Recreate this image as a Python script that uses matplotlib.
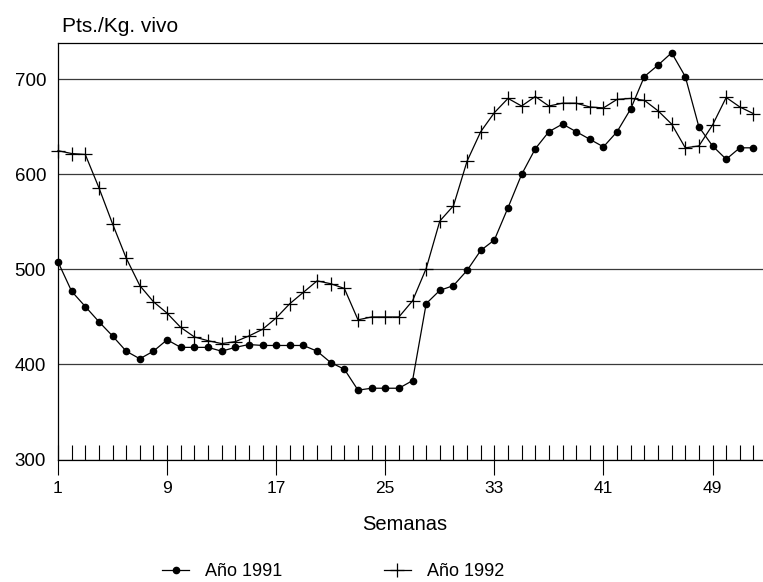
import numpy as np
import matplotlib
matplotlib.use('Agg')
import matplotlib.pyplot as plt
from matplotlib.ticker import MultipleLocator

# precio semanal, Pts./Kg. vivo
semanas = np.arange(1, 53)
ano1991 = [508, 477, 461, 445, 430, 414, 406, 414, 426, 418,
           418, 418, 414, 418, 421, 420, 420, 420, 420, 414,
           402, 395, 373, 375, 375, 375, 383, 464, 478, 483,
           499, 520, 531, 565, 600, 627, 645, 653, 645, 637,
           629, 645, 669, 703, 715, 728, 703, 650, 630, 616,
           628, 628]
ano1992 = [625, 622, 621, 586, 548, 512, 483, 466, 454, 439,
           429, 425, 422, 424, 430, 437, 449, 464, 476, 488,
           485, 480, 447, 450, 450, 450, 467, 501, 551, 567,
           614, 645, 665, 680, 672, 682, 672, 675, 675, 671,
           670, 679, 680, 678, 667, 653, 628, 630, 652, 681,
           671, 664]
yticks = [300, 400, 500, 600, 700]
xticks = [1, 9, 17, 25, 33, 41, 49]

plt.rcParams['font.family'] = ['Liberation Sans', 'DejaVu Sans']

fig = plt.figure(figsize=(7.63, 5.82), dpi=100)
ax = fig.add_axes([58/763, 122.5/582, 705/763, 416.2/582])

ax.plot(semanas, ano1991, color='black', lw=0.9, marker='o', ms=4.5,
        clip_on=False, label='Año 1991')
ax.plot(semanas, ano1992, color='black', lw=0.9, marker='+', ms=10, mew=0.9,
        clip_on=False, label='Año 1992')

ax.set_xlim(1, 52.7)
ax.set_ylim(300, 738)
ax.set_yticks(yticks)
ax.yaxis.grid(True, color='#3a3a3a', lw=0.9)
ax.set_axisbelow(True)
ax.tick_params(axis='y', length=0, pad=8.5, labelsize=13.5)

ax.set_xticks(xticks)
ax.xaxis.set_minor_locator(MultipleLocator(1))
ax.tick_params(axis='x', which='major', direction='inout', length=21, width=0.8,
               pad=5, labelsize=12.5)
ax.tick_params(axis='x', which='minor', direction='in', length=10.5, width=0.8)

ax.spines['right'].set_visible(False)
for s in ['top', 'left', 'bottom']:
    ax.spines[s].set_linewidth(0.9)

fig.text(62/763, 1 - 32/582, 'Pts./Kg. vivo', fontsize=15, va='baseline')
fig.text(405/763, 1 - 525/582, 'Semanas', ha='center', va='center', fontsize=14.5)

fig.legend(loc='center left', bbox_to_anchor=(162/763, 1 - 571.5/582), ncol=2,
           frameon=False, fontsize=13, handlelength=1.5, handletextpad=0.9,
           columnspacing=5.6, borderpad=0, borderaxespad=0)

plt.savefig('out.png', dpi=100)
plt.close()
